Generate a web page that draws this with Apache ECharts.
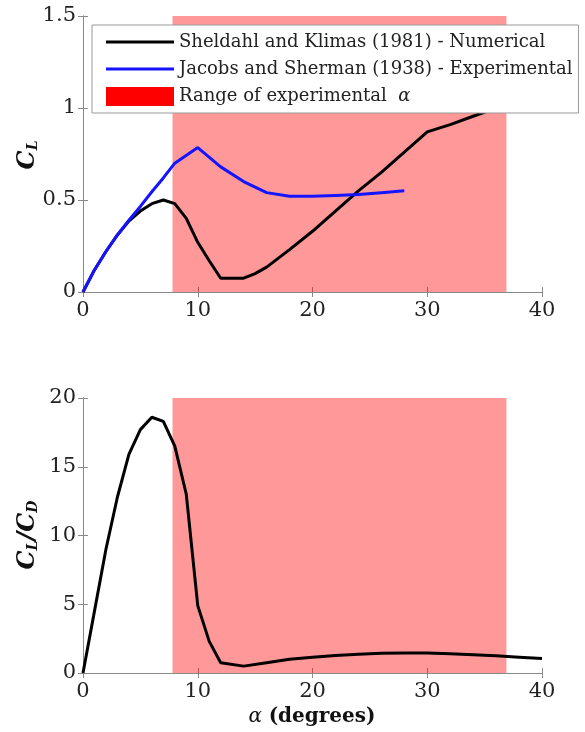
<!DOCTYPE html>
<html>
<head>
<meta charset="UTF-8">
<title>CL and CL/CD vs alpha</title>
<script src="https://cdn.jsdelivr.net/npm/echarts@6/dist/echarts.min.js"></script>
<style>
  html, body { margin: 0; padding: 0; background: #fff; }
  #main { width: 585px; height: 732px; }
</style>
</head>
<body>
<div id="main"></div>
<script>
// lift coefficient, Sheldahl and Klimas (numerical)
var clNumerical = [[0,0],[1,0.12],[2,0.22],[3,0.31],[4,0.385],[5,0.44],[6,0.48],[7,0.50],[8,0.48],[9,0.40],[10,0.27],[11,0.17],[12,0.075],[13,0.075],[14,0.075],[15,0.10],[16,0.135],[18,0.23],[20,0.33],[22,0.44],[24,0.55],[26,0.65],[28,0.76],[30,0.87],[32,0.91],[34,0.955],[36,1.0]];
// lift coefficient, Jacobs and Sherman (experimental)
var clExperimental = [[0,0],[1,0.12],[2,0.22],[3,0.31],[4,0.39],[5,0.465],[6,0.545],[7,0.62],[8,0.70],[10,0.785],[12,0.68],[14,0.60],[16,0.54],[18,0.52],[20,0.52],[22,0.525],[24,0.53],[26,0.54],[28,0.55]];
// lift to drag ratio
var clcd = [[0,0],[1,4.5],[2,9.0],[3,12.8],[4,15.9],[5,17.7],[6,18.6],[7,18.3],[8,16.5],[9,13.0],[10,4.9],[11,2.3],[12,0.75],[14,0.5],[16,0.75],[18,1.0],[20,1.15],[22,1.28],[24,1.37],[26,1.43],[28,1.46],[30,1.46],[32,1.4],[34,1.33],[36,1.25],[38,1.15],[40,1.05]];
// range of experimental alpha
var alphaRange = [7.8, 36.9];
var xTicks = [0, 10, 20, 30, 40];
var clTicks = [0, 0.5, 1, 1.5];
var clcdTicks = [0, 5, 10, 15, 20];

var nameNum = 'Sheldahl and Klimas (1981) - Numerical';
var nameExp = 'Jacobs and Sherman (1938) - Experimental';
var nameRange = 'Range of experimental α';

var serif = 'DejaVu Serif';
var boxColor = '#8a8a8a';
var lineIcon = 'path://M0,0L68,0L68,3L0,3Z';

function xAxisPair(gi, labels) {
    var base = {
        type: 'value', gridIndex: gi, min: xTicks[0], max: xTicks[xTicks.length - 1], interval: 10,
        axisLine: { lineStyle: { color: boxColor, width: 1 } },
        axisTick: { inside: true, length: 5, lineStyle: { color: boxColor } },
        splitLine: { show: false }
    };
    return [
        Object.assign({}, base, {
            position: 'bottom',
            axisLabel: { show: labels, margin: 8, fontFamily: serif, fontSize: 21, color: '#222' }
        }),
        Object.assign({}, base, { position: 'top', axisLabel: { show: false } })
    ];
}

function yAxisPair(gi, ticks) {
    var base = {
        type: 'value', gridIndex: gi, min: ticks[0], max: ticks[ticks.length - 1], interval: ticks[1] - ticks[0],
        axisLine: { show: true, lineStyle: { color: boxColor, width: 1 } },
        axisTick: { show: true, inside: true, length: 5, lineStyle: { color: boxColor } },
        splitLine: { show: false }
    };
    return [
        Object.assign({}, base, {
            position: 'left',
            axisLabel: { margin: 7, fontFamily: serif, fontSize: 21, color: '#222' }
        }),
        Object.assign({}, base, { position: 'right', axisLabel: { show: false } })
    ];
}

var rangeArea = {
    silent: true,
    itemStyle: { color: 'rgba(255,0,0,0.4)' },
    data: [[{ xAxis: alphaRange[0] }, { xAxis: alphaRange[1] }]]
};

var myChart = echarts.init(document.getElementById('main'));

var option = {
    animation: false,
    backgroundColor: '#fff',
    grid: [
        { left: 83, right: 43, top: 16, height: 276 },
        { left: 83, right: 43, top: 398, height: 275 }
    ],
    xAxis: xAxisPair(0, true).concat(xAxisPair(1, true)),
    yAxis: yAxisPair(0, clTicks).concat(yAxisPair(1, clcdTicks)),
    legend: {
        orient: 'vertical',
        left: 92,
        top: 25,
        padding: [8, 6, 7, 14],
        itemGap: 9,
        itemWidth: 68,
        itemHeight: 19,
        backgroundColor: '#fff',
        borderColor: '#999',
        borderWidth: 1,
        borderRadius: 0,
        selectedMode: false,
        textStyle: {
            fontFamily: serif, fontSize: 18, color: '#222',
            rich: { a: { fontFamily: serif, fontSize: 18, fontStyle: 'italic', color: '#222' } }
        },
        formatter: function (name) {
            return name === nameRange ? 'Range of experimental  {a|α}' : name;
        },
        data: [
            { name: nameNum, icon: lineIcon, itemStyle: { color: '#000' } },
            { name: nameExp, icon: lineIcon, itemStyle: { color: '#1414ff' } },
            { name: nameRange, icon: 'rect', itemStyle: { color: '#ff0000' } }
        ]
    },
    graphic: [
        {
            type: 'text', x: 28, y: 155, rotation: Math.PI / 2,
            style: {
                text: '{c|C}{s|L}', align: 'center', verticalAlign: 'middle',
                rich: {
                    c: { fontFamily: serif, fontSize: 24, fontWeight: 'bold', fontStyle: 'italic', fill: '#111' },
                    s: { fontFamily: serif, fontSize: 14, fontWeight: 'bold', fontStyle: 'italic', fill: '#111', padding: [10, 0, 0, 0] }
                }
            }
        },
        {
            type: 'text', x: 28, y: 535, rotation: Math.PI / 2,
            style: {
                text: '{c|C}{s|L}{c|/C}{s|D}', align: 'center', verticalAlign: 'middle',
                rich: {
                    c: { fontFamily: serif, fontSize: 24, fontWeight: 'bold', fontStyle: 'italic', fill: '#111' },
                    s: { fontFamily: serif, fontSize: 14, fontWeight: 'bold', fontStyle: 'italic', fill: '#111', padding: [10, 0, 0, 0] }
                }
            }
        },
        {
            type: 'text', x: 312, y: 717,
            style: {
                text: '{a|α}  {b|(degrees)}', align: 'center', verticalAlign: 'middle',
                rich: {
                    a: { fontFamily: serif, fontSize: 20, fontStyle: 'italic', fill: '#111' },
                    b: { fontFamily: serif, fontSize: 20, fontWeight: 'bold', fill: '#111' }
                }
            }
        }
    ],
    series: [
        {
            name: nameRange, type: 'line', xAxisIndex: 0, yAxisIndex: 0, z: 1,
            color: '#ff0000', data: [], markArea: rangeArea
        },
        {
            name: nameRange, type: 'line', xAxisIndex: 2, yAxisIndex: 2, z: 1,
            color: '#ff0000', data: [], markArea: rangeArea
        },
        {
            name: nameNum, type: 'line', xAxisIndex: 0, yAxisIndex: 0, z: 3,
            symbol: 'none', color: '#000', lineStyle: { color: '#000', width: 3 },
            data: clNumerical
        },
        {
            name: nameExp, type: 'line', xAxisIndex: 0, yAxisIndex: 0, z: 3,
            symbol: 'none', color: '#1414ff', lineStyle: { color: '#1414ff', width: 3 },
            data: clExperimental
        },
        {
            name: nameNum, type: 'line', xAxisIndex: 2, yAxisIndex: 2, z: 3,
            symbol: 'none', color: '#000', lineStyle: { color: '#000', width: 3 },
            data: clcd
        }
    ]
};

myChart.setOption(option);
</script>
</body>
</html>
